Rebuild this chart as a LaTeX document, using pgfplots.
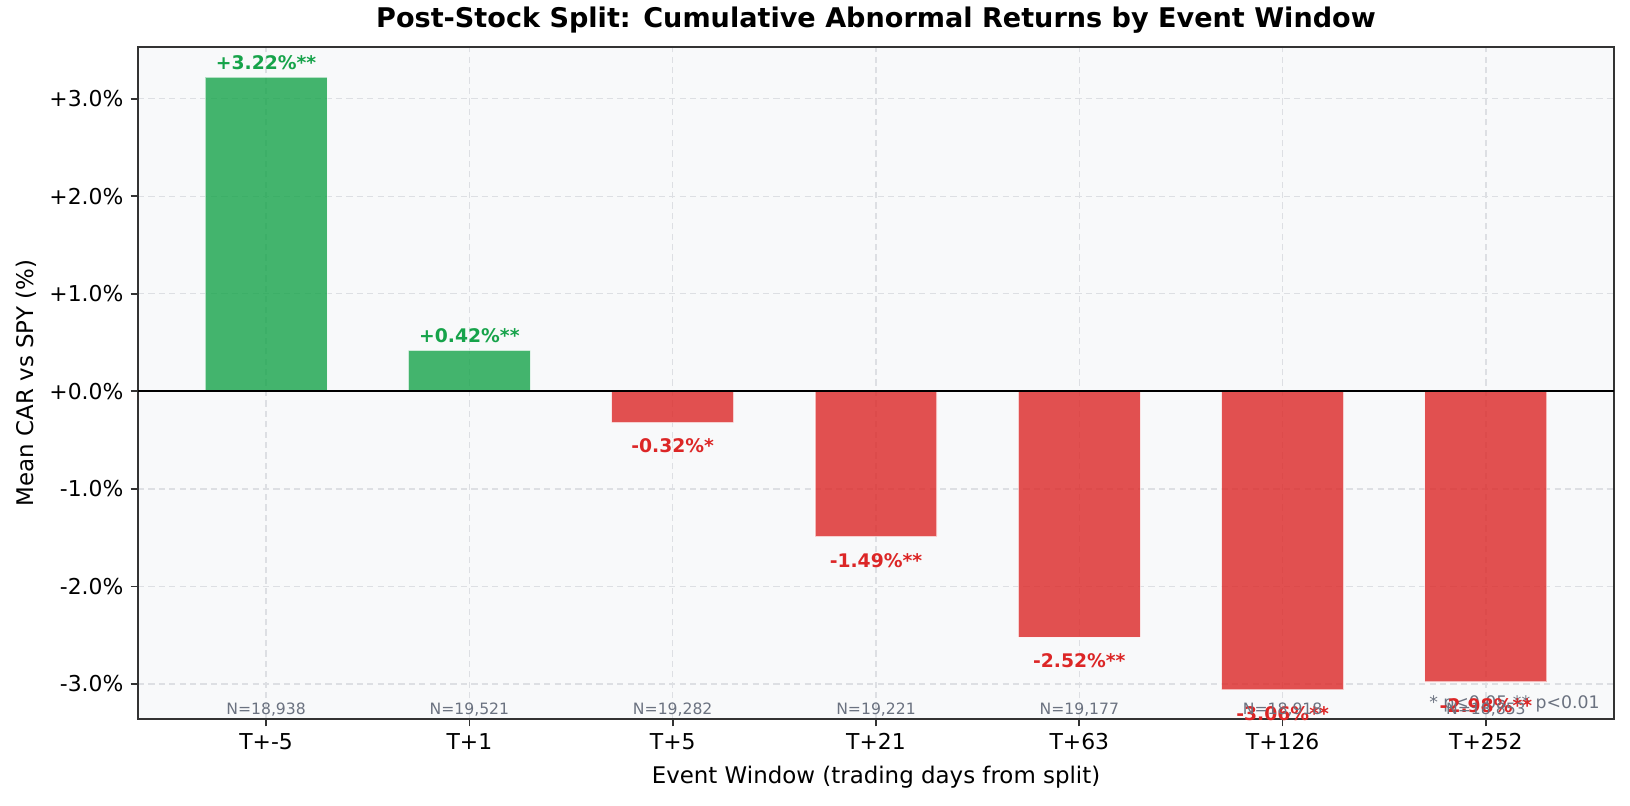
\documentclass[border=0pt]{standalone}
\usepackage{pgfplots}
\pgfplotsset{compat=1.18}
\usepackage{fontspec}
\setmainfont{DejaVu Sans}
\definecolor{posg}{HTML}{16A34A}
\definecolor{negr}{HTML}{DC2626}
\definecolor{bgc}{HTML}{F8F9FA}
\definecolor{spine}{HTML}{333333}
\definecolor{gtext}{HTML}{6B7280}
\definecolor{gridc}{HTML}{DDDFE3}
\begin{document}
\begin{tikzpicture}
\begin{axis}[
  scale only axis,
  width=708.5pt, height=322.6pt,
  xmin=-0.63, xmax=6.63,
  ymin=-3.36, ymax=3.53,
  axis background/.style={fill=bgc},
  axis line style={spine, line width=1pt},
  xtick={0,1,2,3,4,5,6},
  xticklabels={T+-5,T+1,T+5,T+21,T+63,T+126,T+252},
  ytick={-3,-2,-1,0,1,2,3},
  yticklabels={-3.0\%,-2.0\%,-1.0\%,+0.0\%,+1.0\%,+2.0\%,+3.0\%},
  tick align=outside,
  tick pos=left,
  major tick length=3.5pt,
  tick style={spine, line width=0.8pt},
  ticklabel style={font=\fontsize{10.5}{12}\selectfont},
  grid=major,
  grid style={gridc, dash pattern=on 3pt off 2pt, line width=0.6pt},
  title={Post-Stock Split: Cumulative Abnormal Returns by Event Window},
  title style={font=\bfseries\fontsize{13}{15}\selectfont, yshift=-3pt},
  xlabel={Event Window (trading days from split)},
  ylabel={Mean CAR vs SPY (\%)},
  label style={font=\fontsize{11}{13}\selectfont},
  ylabel style={yshift=-0.5pt},
  xlabel style={yshift=-0.5pt},
  clip=false,
]
\addplot[ybar, bar width=0.6, bar shift=0pt, fill=posg, fill opacity=0.8, draw=white, draw opacity=0.6, line width=0.5pt,
  nodes near coords, point meta=explicit symbolic,
  nodes near coords align={center},
  every node near coord/.append style={text=posg, text opacity=1, font=\bfseries\fontsize{9}{10}\selectfont, yshift=7pt}]
  coordinates {(0,3.22) [+3.22\%**] (1,0.42) [+0.42\%**]};
\addplot[ybar, bar width=0.6, bar shift=0pt, fill=negr, fill opacity=0.8, draw=white, draw opacity=0.6, line width=0.5pt,
  nodes near coords, point meta=explicit symbolic,
  nodes near coords align={center},
  every node near coord/.append style={text=negr, text opacity=1, font=\bfseries\fontsize{9}{10}\selectfont, yshift=-11.3pt}]
  coordinates {(2,-0.32) [-0.32\%*] (3,-1.49) [-1.49\%**] (4,-2.52) [-2.52\%**] (5,-3.06) [-3.06\%**] (6,-2.98) [-2.98\%**]};
\addplot[black, line width=0.9pt, mark=none] coordinates {(-0.63,0) (6.63,0)};
\addplot[draw=none, mark=none, nodes near coords, point meta=explicit symbolic,
  nodes near coords align={center},
  every node near coord/.append style={text=gtext, font=\fontsize{7.5}{9}\selectfont}]
  coordinates {(0,-3.266) [N=18,938] (1,-3.266) [N=19,521] (2,-3.266) [N=19,282] (3,-3.266) [N=19,221] (4,-3.266) [N=19,177] (5,-3.266) [N=18,918] (6,-3.266) [N=18,853]};
\node[anchor=south east, text=gtext, font=\fontsize{8.3}{9}\selectfont, inner sep=1pt] at (rel axis cs:0.992,0.006) {* p<0.05 ** p<0.01};
\end{axis}
\path ([shift={(-66.24pt,-41.28pt)}]current axis.south west) rectangle ([shift={(7.68pt,22.56pt)}]current axis.north east);
\end{tikzpicture}
\end{document}
